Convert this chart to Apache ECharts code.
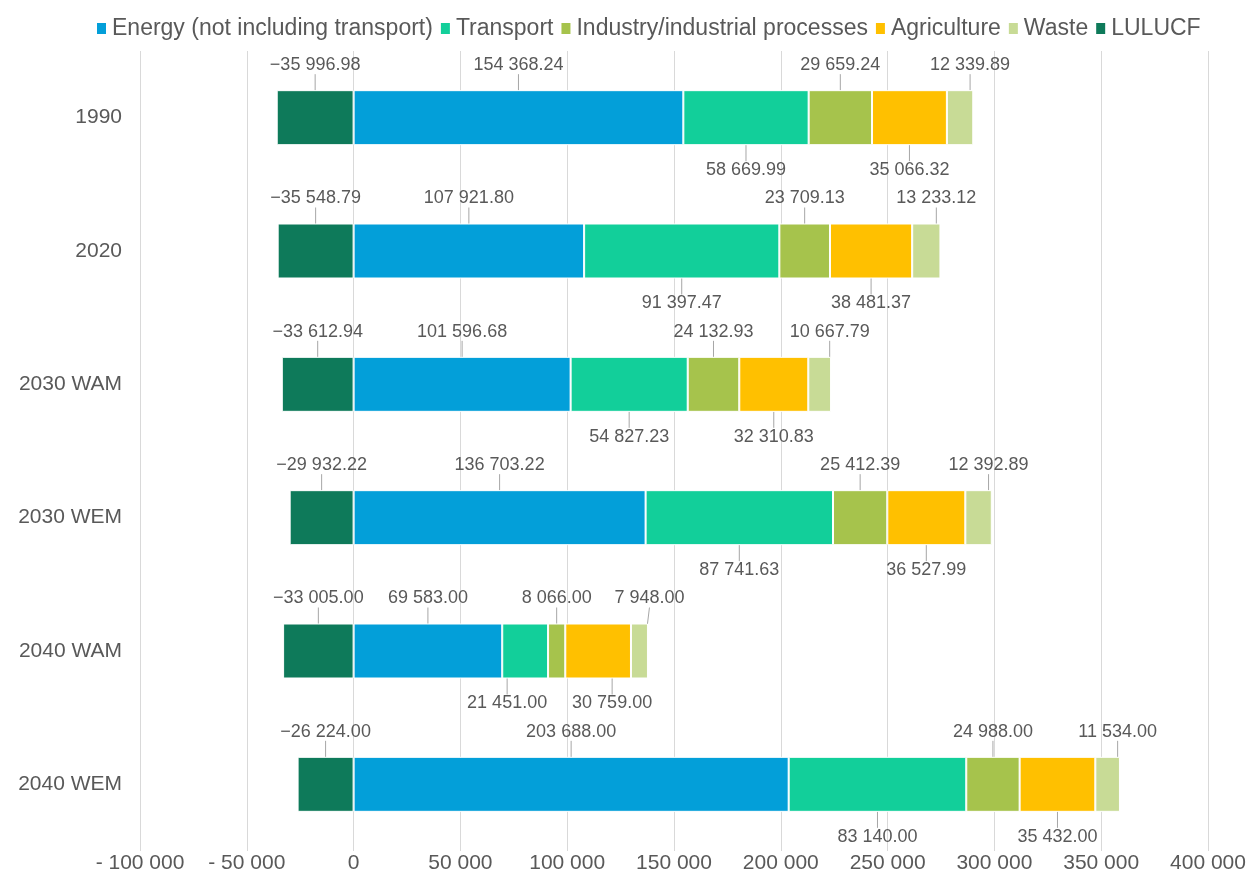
<!DOCTYPE html>
<html>
<head>
<meta charset="utf-8">
<script src="https://cdn.jsdelivr.net/npm/echarts@6/dist/echarts.min.js"></script>
<style>
    html, body { margin: 0; padding: 0; background: #fff; }
    #chart { width: 1250px; height: 887px; }
</style>
</head>
<body>
<div id="chart"></div>
<script>
const years = ['1990', '2020', '2030 WAM', '2030 WEM', '2040 WAM', '2040 WEM'];

const energy = [154368.24, 107921.80, 101596.68, 136703.22, 69583.00, 203688.00];
const transport = [58669.99, 91397.47, 54827.23, 87741.63, 21451.00, 83140.00];
const industry = [29659.24, 23709.13, 24132.93, 25412.39, 8066.00, 24988.00];
const agriculture = [35066.32, 38481.37, 32310.83, 36527.99, 30759.00, 35432.00];
const waste = [12339.89, 13233.12, 10667.79, 12392.89, 7948.00, 11534.00];
const lulucf = [-35996.98, -35548.79, -33612.94, -29932.22, -33005.00, -26224.00];

const textColor = '#595959';
const fontName = '"Liberation Sans", Arial, sans-serif';

// 12 345.67 style numbers
function spaced(n, dec) {
    const parts = Math.abs(n).toFixed(dec).split('.');
    parts[0] = parts[0].replace(/\B(?=(\d{3})+(?!\d))/g, ' ');
    return parts.join('.');
}

// below-bar labels get pushed apart when the bar is too narrow for them
function makeSeries(name, data, color, below, dx, narrowDx) {
    return {
        name: name,
        type: 'bar',
        stack: 'total',
        barWidth: 55,
        data: data,
        itemStyle: { color: color, borderColor: '#fff', borderWidth: 1 },
        label: {
            show: true,
            position: below ? 'bottom' : 'top',
            distance: 2,
            color: textColor,
            fontFamily: fontName,
            fontSize: 18,
            formatter: p => (p.value < 0 ? '\u2212' : '') + spaced(p.value, 2)
        },
        labelLayout: function (params) {
            let shift = dx || 0;
            if (narrowDx && params.rect.width < params.labelRect.width * 0.85) {
                shift = narrowDx;
            }
            return { dy: below ? 14 : -14, dx: shift };
        },
        labelLine: {
            show: true,
            lineStyle: { color: '#a6a6a6', width: 1 }
        }
    };
}

const chart = echarts.init(document.getElementById('chart'));
chart.setOption({
    animation: false,
    textStyle: { fontFamily: fontName },
    legend: {
        top: 12,
        left: 90,
        itemWidth: 11,
        itemHeight: 13,
        itemGap: 6,
        icon: 'rect',
        textStyle: { color: textColor, fontSize: 23, fontFamily: fontName }
    },
    grid: {
        left: 140,
        right: 42,
        top: 51,
        bottom: 36
    },
    xAxis: {
        type: 'value',
        min: -100000,
        max: 400000,
        interval: 50000,
        axisLine: { show: false },
        axisTick: { show: false },
        splitLine: { lineStyle: { color: '#d9d9d9', width: 1 } },
        axisLabel: {
            color: textColor,
            fontSize: 21,
            margin: 2,
            formatter: v => (v < 0 ? '- ' : '') + spaced(v, 0)
        }
    },
    yAxis: {
        type: 'category',
        data: years,
        inverse: true,
        axisLine: { show: false },
        axisTick: { show: false },
        axisLabel: { color: textColor, fontSize: 21, margin: 18 }
    },
    series: [
        makeSeries('Energy (not including transport)', energy, '#039fd9', false),
        makeSeries('Transport', transport, '#12cf9a', true, 0, -18),
        makeSeries('Industry/industrial processes', industry, '#a6c34c', false),
        makeSeries('Agriculture', agriculture, '#ffc000', true, 0, 14),
        makeSeries('Waste', waste, '#c8db96', false, 10),
        makeSeries('LULUCF', lulucf, '#0e7a5a', false)
    ]
});
</script>
</body>
</html>
